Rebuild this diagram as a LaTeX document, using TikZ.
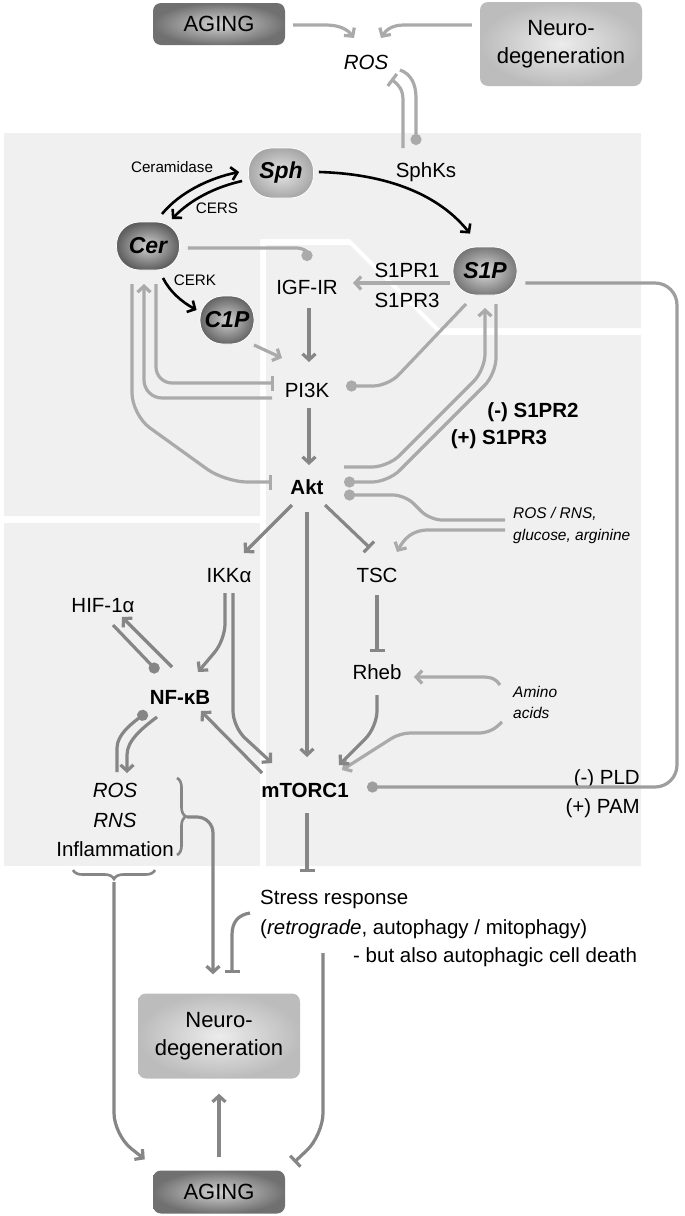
\documentclass[tikz,border=0pt]{standalone}
\usepackage{fontspec}
\setmainfont{Liberation Sans}
\usetikzlibrary{arrows.meta,decorations.pathreplacing,calc}
\definecolor{panel}{RGB}{240,240,240}
\definecolor{lgr}{RGB}{170,170,170}
\definecolor{dgr}{RGB}{134,134,134}
\definecolor{mgr}{RGB}{158,158,158}
\begin{document}
\begin{tikzpicture}[x=1pt,y=-1pt,
  txt/.style={inner sep=0pt, font=\fontsize{20.5}{24}\selectfont, text height=14.8pt, text depth=0pt},
  btxt/.style={txt, font=\fontsize{20.5}{24}\selectfont\bfseries},
  itxt/.style={txt, font=\fontsize{20.5}{24}\selectfont\itshape},
  stxt/.style={inner sep=0pt, font=\fontsize{15.2}{18}\selectfont, text height=11pt, text depth=0pt},
  sitxt/.style={inner sep=0pt, font=\fontsize{15.5}{18}\selectfont\itshape, text height=11pt, text depth=0pt, anchor=west},
  ball/.style={rounded corners=23pt, draw=white, line width=0.8pt, font=\fontsize{23}{26}\selectfont\bfseries\itshape, inner sep=0pt},
  gbox/.style={rounded corners=8pt, align=center, inner sep=0pt, font=\fontsize{22}{28}\selectfont},
  arr/.style={-{Straight Barb[length=6pt,width=13pt]}},
  inh/.style={-{Bar[width=15pt]}},
  dotend/.style={-{Circle[length=11pt]}},
  lightln/.style={draw=lgr, line width=3.2pt},
  darkln/.style={draw=dgr, line width=3.2pt},
  midln/.style={draw=mgr, line width=3.2pt},
  blackln/.style={draw=black, line width=2.6pt},
  bracestyle/.style={draw=dgr, line width=2.6pt, decorate, decoration={brace, amplitude=9pt}}
]
\useasboundingbox (0,0) rectangle (685,1216);
\fill[white] (0,0) rectangle (685,1216);
% panels
\fill[panel] (4,133) -- (641,133) -- (641,328) -- (439,328) -- (350,239) -- (260,239) -- (260,516) -- (4,516) -- cycle;
\fill[panel] (266,245) -- (350,245) -- (440,335) -- (641,335) -- (641,866) -- (266,866) -- cycle;
\fill[panel] (4,523) -- (260,523) -- (260,866) -- (4,866) -- cycle;

% boxes
\node[gbox, minimum width=132pt, minimum height=42pt, inner color=gray!35, outer color={rgb,255:red,112;green,112;blue,112}] (agingT) at (219,24) {AGING};
\node[gbox, minimum width=162pt, minimum height=84pt, inner color={rgb,255:red,236;green,236;blue,236}, outer color={rgb,255:red,188;green,188;blue,188}] (neuroT) at (561,44) {Neuro-\\degeneration};
\node[gbox, minimum width=162pt, minimum height=85pt, inner color={rgb,255:red,236;green,236;blue,236}, outer color={rgb,255:red,188;green,188;blue,188}] (neuroB) at (219,1036) {Neuro-\\degeneration};
\node[gbox, minimum width=132pt, minimum height=43pt, inner color=gray!35, outer color={rgb,255:red,112;green,112;blue,112}] (agingB) at (219,1192) {AGING};

% balls
\node[ball, minimum width=65pt, minimum height=50pt, inner color={rgb,255:red,230;green,230;blue,230}, outer color={rgb,255:red,168;green,168;blue,168}] (sph) at (281,173) {Sph};
\node[ball, minimum width=63pt, minimum height=48pt, inner color={rgb,255:red,210;green,210;blue,210}, outer color={rgb,255:red,94;green,94;blue,94}] (cer) at (148,246) {Cer};
\node[ball, minimum width=64pt, minimum height=48pt, inner color={rgb,255:red,218;green,218;blue,218}, outer color={rgb,255:red,122;green,122;blue,122}] (s1p) at (485,271) {S1P};
\node[ball, minimum width=54pt, minimum height=48pt, inner color={rgb,255:red,208;green,208;blue,208}, outer color={rgb,255:red,102;green,102;blue,102}] (c1p) at (227,320) {C1P};

% text nodes
\node[itxt] (rosT) at (366,62) {ROS};
\node[txt] (sphks) at (426,170) {SphKs};
\node[stxt] (ceramidase) at (172,167) {Ceramidase};
\node[stxt] (cers) at (217,208) {CERS};
\node[stxt] (cerk) at (195,280) {CERK};
\node[txt] (igf) at (307,287) {IGF-IR};
\node[txt] (s1pra) at (407,270) {S1PR1};
\node[txt] (s1prb) at (407,300) {S1PR3};
\node[txt] (pi3k) at (307,390) {PI3K};
\node[btxt] (s1prc) at (533,410) {(-) S1PR2};
\node[btxt] (s1prd) at (499,437) {(+) S1PR3};
\node[btxt] (akt) at (307,487) {Akt};
\node[sitxt] (rosrns) at (513,513) {ROS / RNS,};
\node[sitxt] (gluc) at (513,535) {glucose, arginine};
\node[txt] (ikk) at (229,575) {IKKα};
\node[txt] (tsc) at (377,575) {TSC};
\node[txt] (hif) at (103,605) {HIF-1α};
\node[txt] (rheb) at (377,672) {Rheb};
\node[btxt] (nfkb) at (180,697) {NF-κB};
\node[sitxt] (amino) at (513,692) {Amino};
\node[sitxt] (acids) at (513,713) {acids};
\node[btxt] (mtorc) at (305,790) {mTORC1};
\node[itxt] (rosL) at (115,790) {ROS};
\node[itxt] (rnsL) at (115,820) {RNS};
\node[txt] (infl) at (115,849) {Inflammation};
\node[txt, anchor=east] (pld) at (640,777) {(-) PLD};
\node[txt, anchor=east] (pam) at (640,806) {(+) PAM};
\node[txt, anchor=west] (stressa) at (260,897) {Stress response};
\node[txt, anchor=west] (stressb) at (260,927) {(\textit{retrograde}, autophagy / mitophagy)};
\node[txt, anchor=west] (stressc) at (353,955) {- but also autophagic cell death};

% top connectors
\draw[lightln,arr] ($(agingT.east)+(8,1)$) -- (326,25) .. controls (340,25) and (348,30) .. ($(rosT)+(-12,-24)$);
\draw[lightln,arr] ($(neuroT.west)+(-8,-19)$) -- (404,25) .. controls (392,25) and (386,30) .. ($(rosT)+(15,-24)$);
\draw[lightln,inh] ($(sphks)+(-23,-22)$) -- (403,100) .. controls (403,90) and (399,85) .. ($(rosT)+(25,17)$);
\draw[lightln,dotend] ($(rosT)+(34,8)$) .. controls (411,74) and (416,84) .. (416,98) -- ($(sphks)+(-10,-25)$);

% black sphingolipid arrows
\draw[blackln,arr] ($(cer)+(14,-32)$) .. controls (180,192) and (210,178) .. ($(sph.west)+(-9,-1)$);
\draw[blackln,arr] ($(sph.west)+(-6,8)$) .. controls (215,187) and (190,200) .. ($(cer)+(24,-27)$);
\draw[blackln,arr] ($(cer)+(15,32)$) .. controls (170,292) and (182,302) .. ($(c1p.west)+(-3,-10)$);
\draw[blackln,arr] ($(sph.east)+(5,-1)$) .. controls (390,174) and (440,196) .. ($(s1p.north)+(-15,-13)$);

% upper light connectors
\draw[lightln,dotend] ($(cer.east)+(8,2)$) -- (296,248) .. controls (304,248) and (307,252) .. ($(igf)+(0,-26)$);
\draw[lightln,arr] ($(s1p)+(-35,12)$) -- ($(igf)+(46,-4)$);
\draw[lightln,arr] ($(c1p)+(27,25)$) -- ($(pi3k)+(-25,-32)$);
\draw[darkln,arr] ($(igf)+(2,21)$) -- ($(pi3k)+(2,-28)$);
\draw[lightln,inh,rounded corners=16pt] ($(cer)+(8,38)$) -- (156,383) -- ($(pi3k)+(-33,-7)$);
\draw[lightln,arr,rounded corners=18pt] ($(pi3k)+(-35,8)$) -- (144,398) -- ($(cer)+(-4,38)$);
\draw[lightln,inh,rounded corners=22pt] ($(cer)+(-16,38)$) -- (132,415) -- (225,482) -- ($(akt)+(-35,-5)$);
\draw[lightln,dotend,rounded corners=15pt] ($(s1p)+(-19,33)$) -- (388,386) -- ($(pi3k)+(39,-4)$);
\draw[darkln,arr] ($(pi3k)+(2,18)$) -- ($(akt)+(2,-22)$);
\draw[lightln,arr,rounded corners=16pt] ($(akt)+(37,-20)$) -- (388,467) -- (485,370) -- ($(s1p)+(0,37)$);
\draw[lightln,dotend,rounded corners=16pt] ($(s1p)+(11,33)$) -- (496,374) -- (388,482) -- ($(akt)+(37,-5)$);
\draw[lightln,dotend,rounded corners=12pt] ($(rosrns.west)+(-8,7)$) -- (430,520) -- (405,495) -- ($(akt)+(37,8)$);
\draw[lightln,arr] ($(gluc.west)+(-8,-5)$) -- (428,530) .. controls (412,530) and (404,539) .. ($(tsc)+(20,-23)$);

% Akt downstream
\draw[darkln,arr] ($(akt)+(-15,18)$) -- ($(ikk)+(15,-22)$);
\draw[darkln,inh] ($(akt)+(18,18)$) -- ($(tsc)+(-7,-27)$);
\draw[darkln,arr] ($(akt)+(0,25)$) -- ($(mtorc)+(2,-33)$);
\draw[darkln,inh] ($(tsc)+(0,20)$) -- ($(rheb)+(0,-20)$);
\draw[lightln,arr] ($(amino.west)+(-13,-7)$) .. controls (496,679) and (492,677) .. (482,677) -- ($(rheb)+(37,5)$);
\draw[lightln,arr,rounded corners=10pt] ($(acids.west)+(-11,9)$) -- (490,733) -- (400,733) -- ($(mtorc)+(37,-20)$);
\draw[darkln,arr,rounded corners=16pt] ($(rheb)+(0,23)$) -- (377,727) -- ($(mtorc)+(34,-25)$);
\draw[darkln,arr,rounded corners=16pt] ($(ikk)+(-4,18)$) -- (225,640) -- ($(nfkb)+(18,-25)$);
\draw[darkln,arr,rounded corners=16pt] ($(ikk)+(4,18)$) -- (233,727) -- ($(mtorc)+(-33,-27)$);
\draw[darkln,arr] ($(mtorc)+(-43,-17)$) -- ($(nfkb)+(21,14)$);
\draw[darkln,arr] ($(nfkb)+(-8,-30)$) -- ($(hif)+(19,12)$);
\draw[darkln,dotend] ($(hif)+(10,20)$) -- ($(nfkb)+(-22,-25)$);
\draw[darkln,dotend] ($(rosL)+(2,-18)$) -- (117,748) .. controls (117,735) and (131,724) .. ($(nfkb)+(-33,15)$);
\draw[darkln,arr] ($(nfkb)+(-23,20)$) .. controls (141,729) and (127,741) .. (127,755) -- ($(rosL)+(12,-17)$);

% braces and lower connectors
\draw[bracestyle] ($(rosL)+(62,-12)$) -- ($(infl)+(62,6)$);
\draw[bracestyle] ($(infl)+(40,21)$) -- ($(infl)+(-42,21)$);
\draw[darkln,arr,rounded corners=16pt] ($(infl)+(72,-32)$) -- (213,817) -- ($(neuroB.north)+(-6,-19)$);
\draw[darkln,arr,rounded corners=22pt] ($(infl)+(-1,33)$) -- (114,1135) -- ($(agingB.north west)+(-8,-11)$);
\draw[darkln,inh] ($(mtorc)+(2,23)$) -- ($(mtorc)+(2,82)$);
\draw[darkln,inh] ($(stressb.west)+(-10,-14)$) .. controls (238,915) and (232,922) .. (232,935) -- ($(neuroB.north)+(13,-20)$);
\draw[darkln,inh,rounded corners=22pt] ($(stressc.west)+(-30,-2)$) -- (323,1135) -- ($(agingB.north east)+(9,-8)$);
\draw[darkln,arr] ($(agingB.north)+(0,-13)$) -- ($(neuroB.south)+(0,15)$);

% long loop mTORC1 -- S1P
\draw[midln,dotend,rounded corners=22pt] ($(s1p.east)+(8,12)$) -- (677,283) -- (677,787) -- ($(mtorc)+(62,-3)$);
\end{tikzpicture}
\end{document}
